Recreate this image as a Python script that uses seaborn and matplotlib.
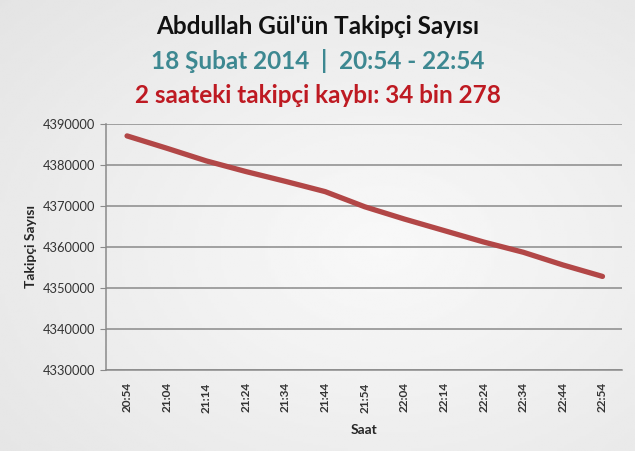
import numpy as np
import pandas as pd
import matplotlib
matplotlib.use("Agg")
import matplotlib.pyplot as plt
import seaborn as sns

# Follower counts, every 10 minutes
times = ["20:54", "21:04", "21:14", "21:24", "21:34", "21:44", "21:54",
         "22:04", "22:14", "22:24", "22:34", "22:44", "22:54"]
followers = [4387100, 4384100, 4381000, 4378400, 4376000, 4373500, 4369800,
             4366800, 4364000, 4361200, 4358700, 4355600, 4352800]
y_ticks = [4330000, 4340000, 4350000, 4360000, 4370000, 4380000, 4390000]

title_1 = "Abdullah Gül'ün Takipçi Sayısı"
title_2 = "18 Şubat 2014  |  20:54 - 22:54"
title_3 = "2 saateki takipçi kaybı: 34 bin 278"

df = pd.DataFrame({"Saat": times, "Takipçi": followers})

sns.set_style("white")
plt.rcParams['font.family'] = ['Lato', 'DejaVu Sans']

fig = plt.figure(figsize=(6.35, 4.51), dpi=100)
fig.patch.set_facecolor("#ececec")

# soft grey gradient background, brighter in the middle
bg = fig.add_axes([0, 0, 1, 1], zorder=-10)
yy, xx = np.mgrid[0:1:200j, 0:1:200j]
shade = 0.975 - 0.09 * np.sqrt(((xx - 0.6) / 0.9) ** 2 + ((yy - 0.55) / 0.9) ** 2)
bg.imshow(shade, cmap="gray", vmin=0, vmax=1, extent=[0, 1, 0, 1], aspect="auto")
bg.axis("off")

ax = fig.add_axes([0.167, 0.18, 0.813, 0.545])
ax.patch.set_alpha(0)

sns.lineplot(data=df, x="Saat", y="Takipçi", sort=False, ax=ax,
             color="#b24747", linewidth=3.8, solid_capstyle="round")

ax.set_ylim(y_ticks[0], y_ticks[-1])
ax.set_yticks(y_ticks)
ax.set_yticklabels([str(v) for v in y_ticks], fontsize=9.3, color="#333333")
ax.set_xlim(-0.53, len(times) - 0.5)
ax.set_xticks(range(len(times)))
ax.set_xticklabels(times, rotation=90, fontsize=8.5, fontweight="bold", color="#333333")

ax.grid(axis="y", color="#8a8a8a", linewidth=1.1)
ax.set_axisbelow(True)
for side in ["top", "right"]:
    ax.spines[side].set_visible(False)
for side in ["left", "bottom"]:
    ax.spines[side].set_color("#8a8a8a")
    ax.spines[side].set_linewidth(1.1)
ax.tick_params(axis="y", length=4, color="#8a8a8a", left=True, pad=4)
ax.tick_params(axis="x", length=0, pad=9)

ax.set_xlabel("Saat", fontsize=10, fontweight="bold", labelpad=8)
ax.set_ylabel("Takipçi Sayısı", fontsize=10, fontweight="bold", labelpad=4)

fig.text(0.5, 0.925, title_1, ha="center", va="baseline", fontsize=17.5,
         fontweight="bold", color="#111111")
fig.text(0.5, 0.846, title_2, ha="center", va="baseline", fontsize=17.5,
         fontweight="bold", color="#3d8891")
fig.text(0.5, 0.772, title_3, ha="center", va="baseline", fontsize=17.5,
         fontweight="bold", color="#be1a22")

fig.savefig("out.png", dpi=100, facecolor=fig.get_facecolor())
